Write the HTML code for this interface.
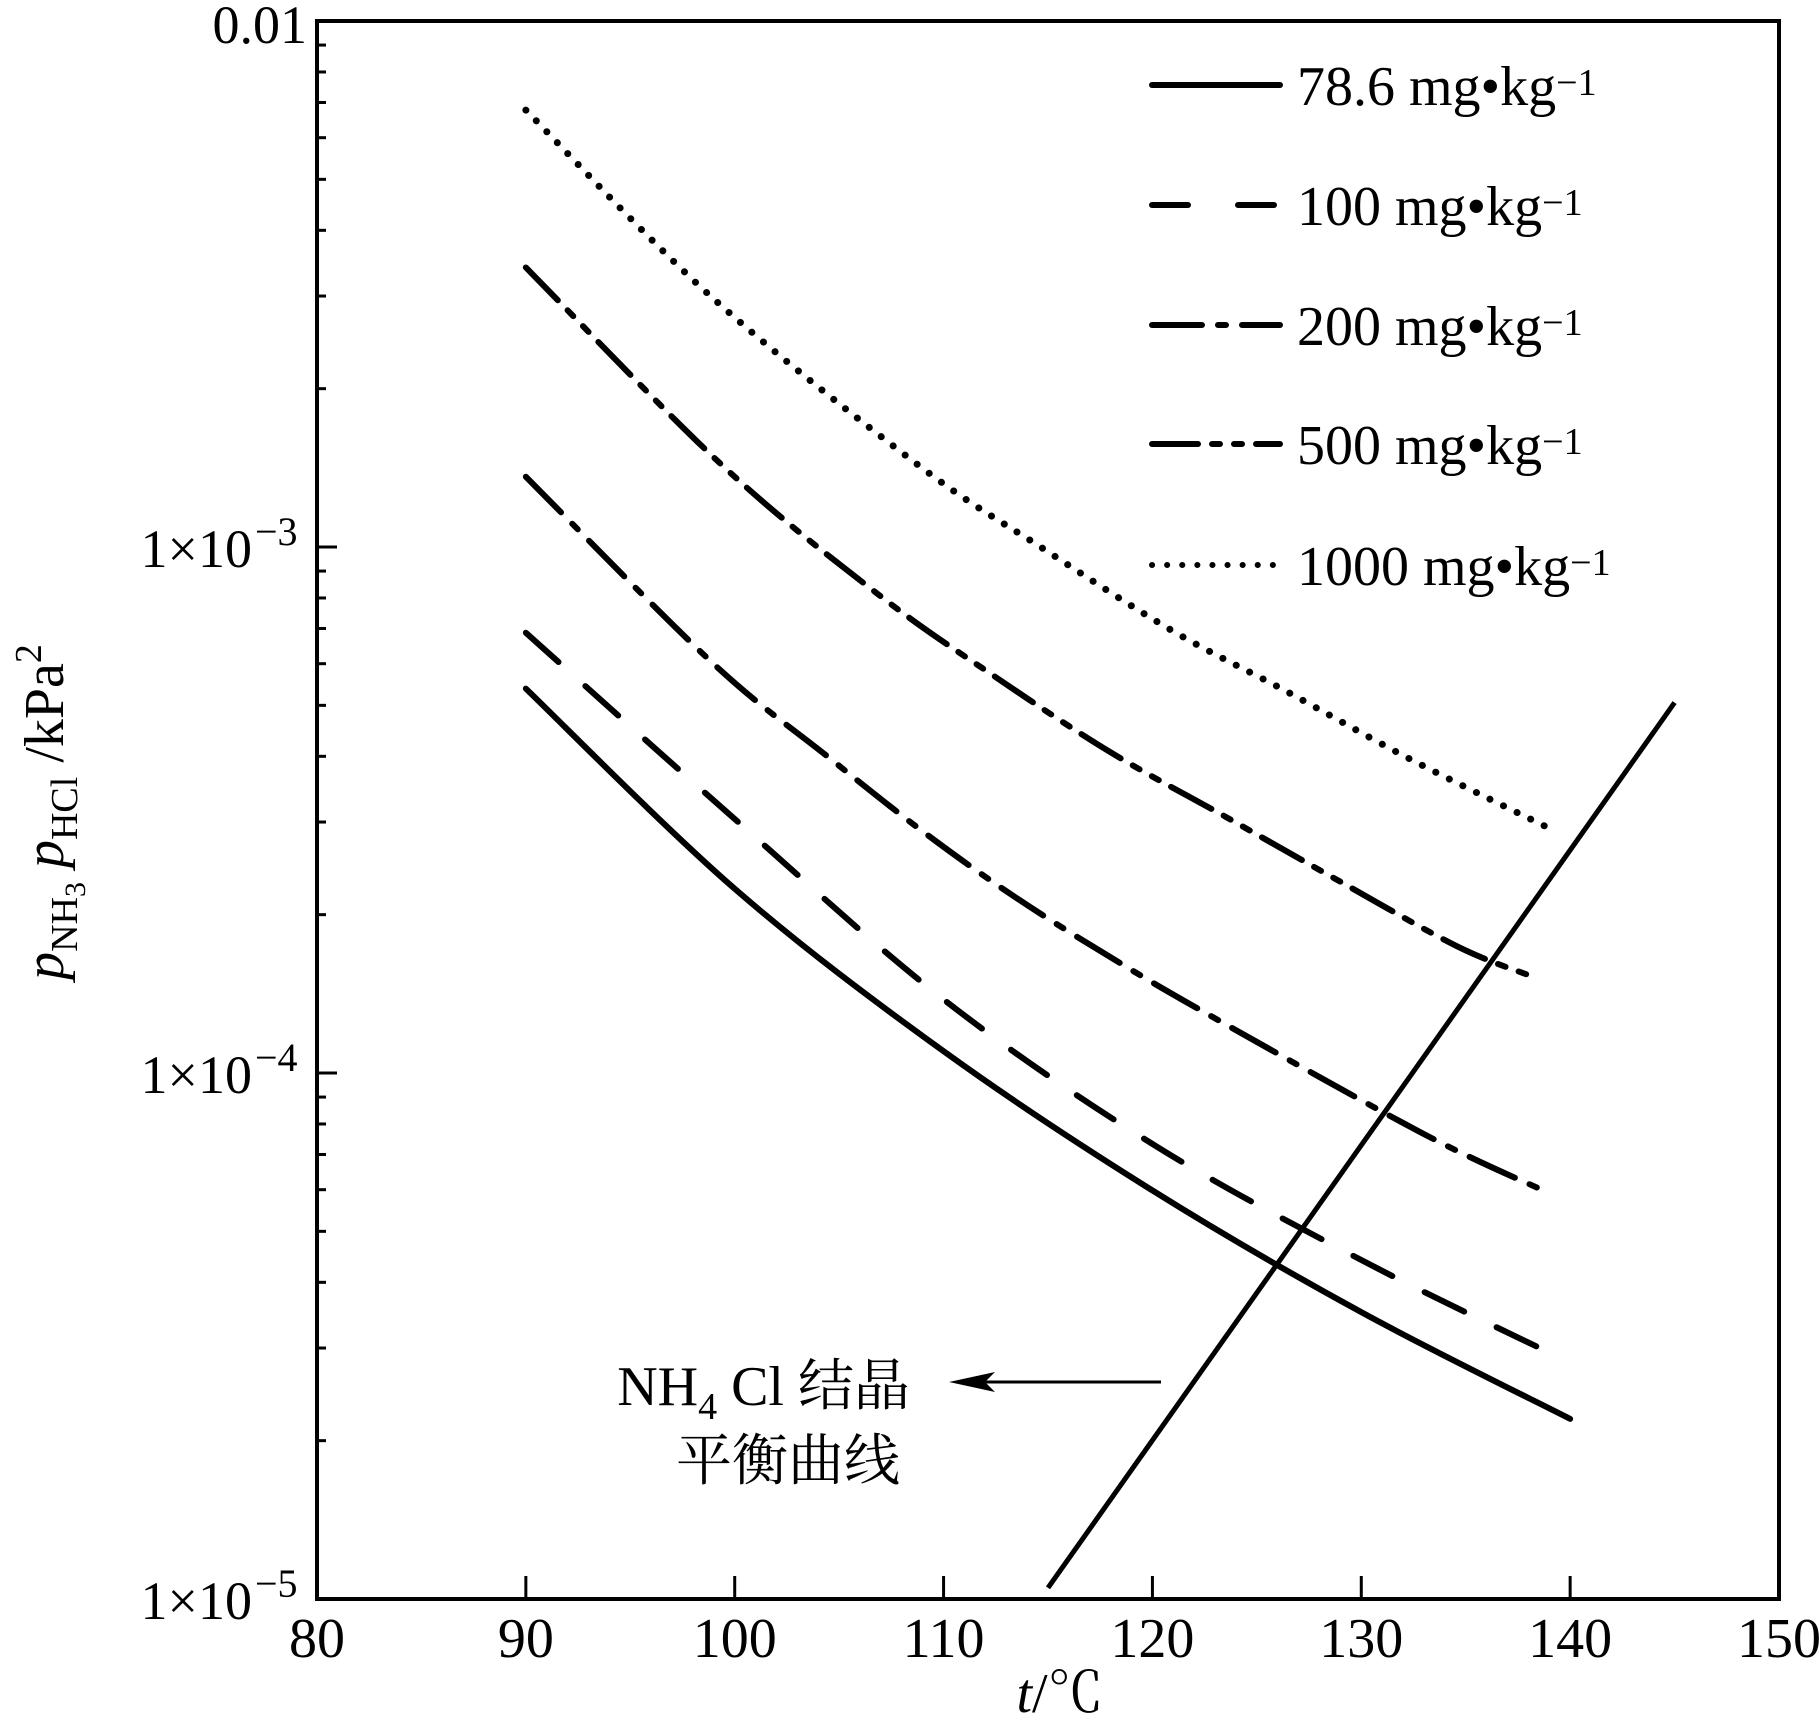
<!DOCTYPE html>
<html><head><meta charset="utf-8">
<style>
html,body{margin:0;padding:0;background:#fff}
svg{display:block}
text{font-family:"Liberation Serif","Noto Serif CJK SC","Noto Sans CJK SC",serif;fill:#000}
</style></head>
<body>
<svg id="chart" width="1819" height="1732" viewBox="0 0 1819 1732" xmlns="http://www.w3.org/2000/svg">
<g id="axes"></g>
<g id="series"></g>
<g id="legend"></g>
<text transform="translate(63,812) rotate(-90)" text-anchor="middle" font-size="56"><tspan font-style="italic">p</tspan><tspan font-size="38" dy="14">NH</tspan><tspan font-size="30" dy="8">3</tspan><tspan dy="-22" font-style="italic"> p</tspan><tspan font-size="38" dy="14">HCl</tspan><tspan dy="-14"> /kPa</tspan><tspan font-size="38" dy="-22">2</tspan></text>
<text x="1060" y="1712" text-anchor="middle" font-size="56"><tspan font-style="italic">t</tspan>/℃</text>
<text x="910" y="1405" text-anchor="end" font-size="56">NH<tspan font-size="38" dy="14">4</tspan><tspan dy="-14"> Cl 结晶</tspan></text>
<text x="900" y="1480" text-anchor="end" font-size="56">平衡曲线</text>
<g>
<line x1="1161" y1="1382" x2="960" y2="1382" stroke="#000" stroke-width="3"/>
<polygon points="949,1382 995,1372 985,1382 995,1392" fill="#000"/>
</g>
</svg>
<script>
const xTicks = [80, 90, 100, 110, 120, 130, 140, 150];
const yDecades = [-5, -4, -3, -2];
const yTickLabels = ["1×10", "1×10", "1×10", "0.01"];
const yTickExps = ["−5", "−4", "−3", ""];
const seriesNames = ["78.6 mg•kg", "100 mg•kg", "200 mg•kg", "500 mg•kg", "1000 mg•kg"];
const t786 = [90, 100, 110, 120, 130, 140];
const s786 = [5.38e-4, 2.24e-4, 1.10e-4, 5.98e-5, 3.51e-5, 2.20e-5];
const t100 = [90, 100, 110, 120, 130, 139];
const s100 = [6.87e-4, 3.04e-4, 1.38e-4, 7.33e-5, 4.41e-5, 2.94e-5];
const t200 = [90, 98.9, 104.4, 109.1, 113.5, 118.1, 122.7, 132.9, 138.75];
const s200 = [1.36e-3, 6.04e-4, 4.01e-4, 2.86e-4, 2.15e-4, 1.65e-4, 1.29e-4, 7.69e-5, 5.97e-5];
const t500 = [90, 99.4, 106.9, 112.4, 118, 123.5, 129, 134.6, 138.1];
const s500 = [3.40e-3, 1.43e-3, 8.11e-4, 5.69e-4, 4.07e-4, 3.07e-4, 2.31e-4, 1.74e-4, 1.53e-4];
const t1000 = [90, 98.8, 108.8, 114.8, 120.9, 126.4, 132.4, 139.3];
const s1000 = [6.77e-3, 3.01e-3, 1.43e-3, 9.91e-4, 6.95e-4, 5.32e-4, 3.94e-4, 2.88e-4];
const tCryst = [115, 145];
const sCryst = [1.05e-5, 5.06e-4];

const NS = "http://www.w3.org/2000/svg";
const L = 317, R = 1779, T = 21, B = 1599;
const X = t => L + (t - 80) / 70 * (R - L);
const Y = v => T + (-2 - Math.log10(v)) / 3 * (B - T);
function mk(tag, attrs, parent) { const e = document.createElementNS(NS, tag); for (const k in attrs) e.setAttribute(k, attrs[k]); parent.appendChild(e); return e; }
const axes = document.getElementById('axes');
const frame = mk('rect', {x: L, y: T, width: R - L, height: B - T, fill: 'none', stroke: '#000', 'stroke-width': 4}, axes);


xTicks.forEach(t => {
  const x = X(t);
  const tk = mk('line', {x1: x, y1: B, x2: x, y2: B - 23, stroke: '#000', 'stroke-width': 3}, axes);
  
  
  const tx = mk('text', {x: x, y: B + 58, 'text-anchor': 'middle', 'font-size': 56}, axes);
  tx.textContent = t;
  
  
});
yDecades.forEach((d, i) => {
  const y = Y(Math.pow(10, d));
  const tk = mk('line', {x1: L, y1: y, x2: L + 20, y2: y, stroke: '#000', 'stroke-width': 3}, axes);
  
  
  if (d < -2) for (let m = 2; m <= 9; m++) {
    const ym = Y(m * Math.pow(10, d));
    const mt = mk('line', {x1: L, y1: ym, x2: L + 9, y2: ym, stroke: '#000', 'stroke-width': 3}, axes);
    
    
  }
  const tx = mk('text', {x: L - 10, y: y + 20, 'text-anchor': 'end', 'font-size': 54}, axes);
  
  
  if (yTickExps[i]) {
    tx.setAttribute('x', L - 65);
    tx.textContent = yTickLabels[i];
    const ex = mk('text', {x: L - 62, y: y - 2, 'text-anchor': 'start', 'font-size': 40}, axes);
    ex.textContent = yTickExps[i];
    
    
  } else { tx.setAttribute('y', y + 22); tx.textContent = yTickLabels[i]; }
});
function pathFor(ts, vs) {
  const p = ts.map((t, i) => [X(t), Y(vs[i])]);
  let d = 'M' + p[0][0] + ',' + p[0][1];
  for (let i = 0; i < p.length - 1; i++) {
    const p0 = p[Math.max(i - 1, 0)], p1 = p[i], p2 = p[i + 1], p3 = p[Math.min(i + 2, p.length - 1)];
    const c1 = [p1[0] + (p2[0] - p0[0]) / 6, p1[1] + (p2[1] - p0[1]) / 6];
    const c2 = [p2[0] - (p3[0] - p1[0]) / 6, p2[1] - (p3[1] - p1[1]) / 6];
    d += ' C' + c1 + ' ' + c2 + ' ' + p2;
  }
  return d;
}
const dashes = ["", "44 36", "50 16 8 16", "46 14 8 14 8 14", "0.1 15"];
const sData = [[t786, s786], [t100, s100], [t200, s200], [t500, s500], [t1000, s1000]];
const names = ['line-78-6', 'line-100', 'line-200', 'line-500', 'line-1000'];
const sg = document.getElementById('series');
sData.forEach((s, i) => {
  const pa = mk('path', {d: pathFor(s[0], s[1]), fill: 'none', stroke: '#000', 'stroke-width': i == 4 ? 7 : 6, 'stroke-linecap': 'round', 'stroke-dasharray': dashes[i]}, sg);
  
  
});
const cr = mk('path', {d: pathFor(tCryst, sCryst), fill: 'none', stroke: '#000', 'stroke-width': 5}, sg);


const lg = document.getElementById('legend');
const legY = [85, 205, 325, 444, 565];
seriesNames.forEach((n, i) => {
  const g = mk('g', {}, lg);
  
  
  mk('line', {x1: 1152, y1: legY[i], x2: 1280, y2: legY[i], stroke: '#000', 'stroke-width': 6, 'stroke-linecap': 'round', 'stroke-dasharray': i == 1 ? "36 50" : dashes[i]}, g);
  const t = mk('text', {x: 1297, y: legY[i] + 20, 'font-size': 56}, g);
  t.textContent = n;
  const sp = document.createElementNS(NS, 'tspan');
  sp.setAttribute('font-size', 38);
  sp.setAttribute('dy', -10);
  sp.textContent = '−1';
  t.appendChild(sp);
});
</script>
</body></html>
